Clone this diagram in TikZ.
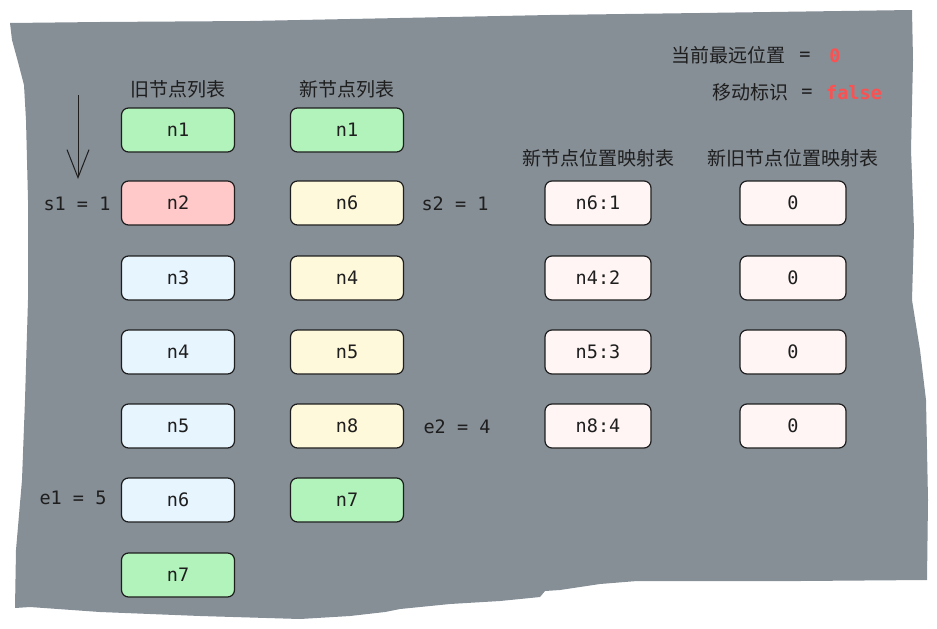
\documentclass[tikz,border=0pt]{standalone}
\usepackage{fontspec}
\usetikzlibrary{arrows.meta}
\setmonofont{DejaVu Sans Mono}
\newfontfamily\cjk{Noto Sans CJK SC}

\definecolor{ink}{HTML}{1E1E1E}
\definecolor{paper}{HTML}{868E96}
\definecolor{keep}{HTML}{B2F2BB}
\definecolor{hit}{HTML}{FFC9C9}
\definecolor{oldc}{HTML}{E7F5FF}
\definecolor{newc}{HTML}{FFF9DB}
\definecolor{mapc}{HTML}{FFF5F5}
\definecolor{flag}{HTML}{FA5252}

\begin{document}
\begin{tikzpicture} [x=1pt, y=-1pt,
    every node/.style = {text=ink, inner sep=0pt},
    box/.style = {draw=ink, line width=1.2pt, rounded corners=7pt,
                  minimum width=113pt, minimum height=44pt,
                  font=\fontsize{18.5}{20}\ttfamily},
    mapbox/.style = {box, fill=mapc, minimum width=106pt},
    title/.style = {font=\fontsize{19}{20}\cjk},
    pointer/.style = {font=\fontsize{18.5}{20}\ttfamily},
    value/.style = {text=flag, font=\fontsize{18.5}{20}\ttfamily\bfseries}]

            \useasboundingbox (0,0) rectangle (937,629);

            % paper
            \fill[paper] (10,23) -- (100,22) -- (250,21) -- (400,18) -- (550,15)
                -- (700,13) -- (912,10) -- (913,60) -- (911,150) -- (914,230)
                -- (912,300) -- (920,350) -- (926,400) -- (928,500) -- (927,580)
                -- (800,581) -- (637,581) -- (600,584) -- (560,590) -- (545,591)
                -- (540,597) -- (500,601) -- (450,604) -- (400,609) -- (385,612)
                -- (350,616) -- (300,619) -- (200,616) -- (100,612) -- (30,607)
                -- (15,608) -- (16,550) -- (22,480) -- (25,400) -- (28,300)
                -- (28,200) -- (26,120) -- (24,85) -- (18,62) -- (12,40) -- cycle;

            % titles
            \node[title] (tOld) at (178, 89) {旧节点列表};
            \node[title] (tNew) at (347, 89) {新节点列表};
            \node[title] (tMap) at (598,158) {新节点位置映射表};
            \node[title] (tIdx) at (793,158) {新旧节点位置映射表};

            % old list
            \node[box, fill=keep] (o1) at (178,130) {n1};
            \node[box, fill=hit]  (o2) at (178,203) {n2};
            \node[box, fill=oldc] (o3) at (178,278) {n3};
            \node[box, fill=oldc] (o4) at (178,352) {n4};
            \node[box, fill=oldc] (o5) at (178,426) {n5};
            \node[box, fill=oldc] (o6) at (178,500) {n6};
            \node[box, fill=keep] (o7) at (178,575) {n7};

            % new list
            \node[box, fill=keep] (n1) at (347,130) {n1};
            \node[box, fill=newc] (n6) at (347,203) {n6};
            \node[box, fill=newc] (n4) at (347,278) {n4};
            \node[box, fill=newc] (n5) at (347,352) {n5};
            \node[box, fill=newc] (n8) at (347,426) {n8};
            \node[box, fill=keep] (n7) at (347,500) {n7};

            % maps
            \node[mapbox] (m1) at (598,203) {n6:1};
            \node[mapbox] (m2) at (598,278) {n4:2};
            \node[mapbox] (m3) at (598,352) {n5:3};
            \node[mapbox] (m4) at (598,426) {n8:4};

            \node[mapbox] (i1) at (793,203) {0};
            \node[mapbox] (i2) at (793,278) {0};
            \node[mapbox] (i3) at (793,352) {0};
            \node[mapbox] (i4) at (793,426) {0};

            % pointers
            \node[pointer] (s1) at ( 77,204) {s1 = 1};
            \node[pointer] (e1) at ( 73,498) {e1 = 5};
            \node[pointer] (s2) at (455,204) {s2 = 1};
            \node[pointer] (e2) at (457,427) {e2 = 4};

            % state
            \node[title, anchor=east] (far)     at (786, 55) {当前最远位置};
            \node[pointer]            (farEq)   at (805, 56) {=};
            \node[value]              (farVal)  at (835, 56) {0};
            \node[title, anchor=east] (move)    at (789, 92) {移动标识};
            \node[pointer]            (moveEq)  at (807, 93) {=};
            \node[value, anchor=west] (moveVal) at (826, 93) {false};

            % scan direction
            \coordinate (dTop) at (78, 95);
            \coordinate (dBot) at (78,179);
            \draw[ink, line width=1pt, -{Straight Barb[length=28pt,width=22pt]}] (dTop) -- (dBot);
        \end{tikzpicture}
\end{document}
